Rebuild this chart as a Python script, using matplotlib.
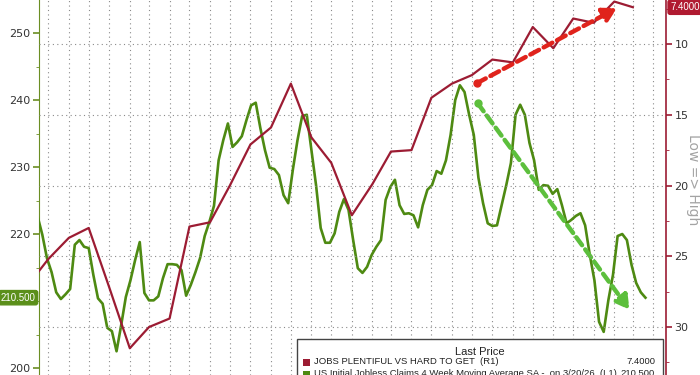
import pandas as pd
import matplotlib
matplotlib.use("Agg")
import matplotlib.pyplot as plt
import matplotlib.dates as mdates
from matplotlib.ticker import MultipleLocator, FixedLocator
from matplotlib.patches import Rectangle

# Conference Board: jobs plentiful vs hard to get (right axis, inverted), monthly
jobs_dates = pd.date_range("2023-09-01", "2026-03-01", freq="MS")
jobs_vals = [27.0, 25.2, 23.7, 23.0,
             27.2, 31.5, 30.0, 29.4, 22.9, 22.6, 20.0, 17.1, 15.9, 12.8, 16.6, 18.4,
             22.1, 19.9, 17.6, 17.5, 13.8, 12.8, 12.2, 11.1, 11.3, 8.8, 10.3, 8.2,
             8.5, 7.0, 7.4]

# US initial jobless claims, 4 week moving average (left axis, thousands), weekly
claims_dates = pd.date_range("2023-09-15", periods=132, freq="7D")
claims_vals = [222.6, 219.9, 216.4, 214.3, 211.3, 210.3, 211.0, 211.8, 218.4, 219.1,
               218.1, 217.9, 213.9, 210.4, 209.6, 206.0, 205.5, 202.5, 206.4, 210.6,
               213.1, 216.1, 218.8, 211.2, 210.1, 210.1, 210.7, 213.4, 215.5, 215.5,
               215.4, 214.6, 210.8, 212.4, 214.3, 216.4, 219.7, 221.8, 224.2, 231.0,
               234.0, 236.5, 233.0, 233.7, 234.6, 237.0, 239.2, 239.6, 235.8, 232.5,
               229.9, 229.7, 228.8, 225.8, 224.6, 229.6, 234.0, 237.6, 237.8, 232.5,
               227.3, 220.9, 218.7, 218.7, 220.1, 223.3, 225.2, 223.6, 219.1, 214.9,
               214.2, 215.1, 216.9, 218.1, 219.1, 225.1, 227.0, 228.1, 224.3, 223.0,
               223.1, 222.8, 221.0, 224.3, 226.6, 227.3, 229.4, 229.0, 231.0, 234.8,
               240.0, 242.2, 241.2, 237.8, 234.8, 228.4, 224.6, 221.6, 221.2, 221.3,
               224.3, 227.3, 230.6, 237.8, 239.3, 237.8, 233.6, 231.0, 226.6, 227.3,
               227.2, 226.0, 226.7, 224.3, 221.6, 222.1, 222.7, 223.1, 221.3, 216.9,
               213.1, 206.9, 205.4, 210.1, 213.9, 219.7, 220.0, 219.1, 215.4, 212.7,
               211.3, 210.5]

# hand-drawn trend arrows (start, end)
jobs_trend_dates = ["2025-07-09", "2026-02-05"]
jobs_trend_vals = [12.76, 7.46]
claims_trend_dates = ["2025-07-10", "2026-02-24"]
claims_trend_vals = [239.5, 208.7]

RED = "#9c1c33"
GREEN = "#4e8a12"
ARROW_RED = "#e0231c"
ARROW_GREEN = "#5cbf3c"
TAG_FONT = ["Liberation Sans", "DejaVu Sans"]

fig = plt.figure(figsize=(7, 3.75), dpi=100)
ax = fig.add_axes([39 / 700, 0, 627 / 700, 1])
ax2 = ax.twinx()

ax.plot(claims_dates, claims_vals, color=GREEN, lw=1.9, zorder=3)
ax2.plot(jobs_dates, jobs_vals, color=RED, lw=1.6, zorder=3)

# axes ranges
ax.set_xlim(pd.Timestamp("2023-09-17"), pd.Timestamp("2026-04-20"))
ax.set_ylim(198.96, 254.93)
ax2.set_ylim(33.39, 6.89)

# monthly vertical grid, horizontal grid from the right axis
ax.xaxis.set_major_locator(mdates.MonthLocator())
ax.tick_params(axis="x", length=0, labelbottom=False)
ax.grid(axis="x", color="#8a8a8a", ls=(0, (1, 3)), lw=0.8)
ax2.grid(axis="y", color="#8a8a8a", ls=(0, (1, 3)), lw=0.8)
ax.set_axisbelow(True)

# 210 label sits under the last-value tag
ax.yaxis.set_major_locator(FixedLocator([200, 220, 230, 240, 250]))
ax.yaxis.set_minor_locator(MultipleLocator(5))
ax2.yaxis.set_major_locator(MultipleLocator(5))
ax2.yaxis.set_minor_locator(MultipleLocator(2.5))
ax.tick_params(axis="y", which="major", length=4, width=1.2, color="#6b8e23",
               labelsize=8, labelcolor="#333333", pad=2)
ax.tick_params(axis="y", which="minor", length=2, color="#6b8e23")
ax2.tick_params(axis="y", which="major", length=4, width=1.2, color=RED,
                labelsize=8, labelcolor="#333333", pad=2)
ax2.tick_params(axis="y", which="minor", length=2, color=RED)

for a in (ax, ax2):
    for side in ("top", "bottom", "left", "right"):
        a.spines[side].set_visible(False)
ax.spines["left"].set_visible(True)
ax.spines["left"].set_color("#6b8e23")
ax2.spines["right"].set_visible(True)
ax2.spines["right"].set_color(RED)
ax2.spines["right"].set_linewidth(1.2)


def trend_arrow(a, dates, vals, color):
    x = mdates.date2num(pd.to_datetime(dates))
    a.plot(x[0], vals[0], "o", color=color, ms=5, zorder=5)
    a.annotate("", xy=(x[1], vals[1]), xytext=(x[0], vals[0]),
               arrowprops=dict(arrowstyle="-|>,head_length=0.8,head_width=0.45",
                               color=color, lw=3.2, ls=(0, (2.2, 1.2)),
                               shrinkA=0, shrinkB=0), zorder=5)


trend_arrow(ax2, jobs_trend_dates, jobs_trend_vals, ARROW_RED)
trend_arrow(ax, claims_trend_dates, claims_trend_vals, ARROW_GREEN)

# last value tags
ax.annotate(f"{claims_vals[-1]:.3f}", xy=(0, claims_vals[-1]), xycoords=("axes fraction", "data"),
            xytext=(-2.5, 0), textcoords="offset points", ha="right", va="center",
            fontsize=7, color="white", family=TAG_FONT,
            bbox=dict(boxstyle="round,pad=0.22", fc="#5b8f1a", ec="#5b8f1a"), zorder=6,
            annotation_clip=False)
ax2.annotate(f"{jobs_vals[-1]:.4f}", xy=(1, jobs_vals[-1]), xycoords=("axes fraction", "data"),
             xytext=(3, 0), textcoords="offset points", ha="left", va="center",
             fontsize=7, color="white", family=TAG_FONT,
             bbox=dict(boxstyle="round,pad=0.22", fc="#b01a30", ec="#b01a30"), zorder=6,
             annotation_clip=False)

fig.text(693 / 700, 1 - 180 / 375, "Low => High", rotation=270, ha="center", va="center",
         fontsize=10, color="#a3a3a3")

# legend box, runs off the bottom edge like the original screenshot
fig.patches.append(Rectangle((297 / 700, -0.05), 366 / 700, 0.05 + 36 / 375,
                             transform=fig.transFigure, fc="white", ec="#444444",
                             lw=1, zorder=10))
leg_font = ["Liberation Sans Narrow", "Liberation Sans", "DejaVu Sans"]
fig.text(480 / 700, 1 - 352 / 375, "Last Price", ha="center", va="center",
         fontsize=8, color="#222222", family=leg_font, zorder=11)
fig.patches.append(Rectangle((303 / 700, 1 - 366 / 375), 7 / 700, 7 / 375,
                             transform=fig.transFigure, fc=RED, ec="none", zorder=11))
fig.patches.append(Rectangle((303 / 700, 1 - 378 / 375), 7 / 700, 7 / 375,
                             transform=fig.transFigure, fc=GREEN, ec="none", zorder=11))
fig.text(314 / 700, 1 - 362 / 375, "JOBS PLENTIFUL VS HARD TO GET  (R1)", ha="left",
         va="center", fontsize=6.8, color="#222222", family=leg_font, zorder=11)
fig.text(655 / 700, 1 - 362 / 375, f"{jobs_vals[-1]:.4f}", ha="right", va="center",
         fontsize=6.8, color="#222222", family=leg_font, zorder=11)
fig.text(314 / 700, 1 - 373 / 375,
         "US Initial Jobless Claims 4 Week Moving Average SA -  on 3/20/26  (L1)",
         ha="left", va="center", fontsize=6.8, color="#222222", family=leg_font, zorder=11)
fig.text(655 / 700, 1 - 373 / 375, f"{claims_vals[-1]:.3f}", ha="right", va="center",
         fontsize=6.8, color="#222222", family=leg_font, zorder=11)

fig.savefig("out.png", dpi=100)
